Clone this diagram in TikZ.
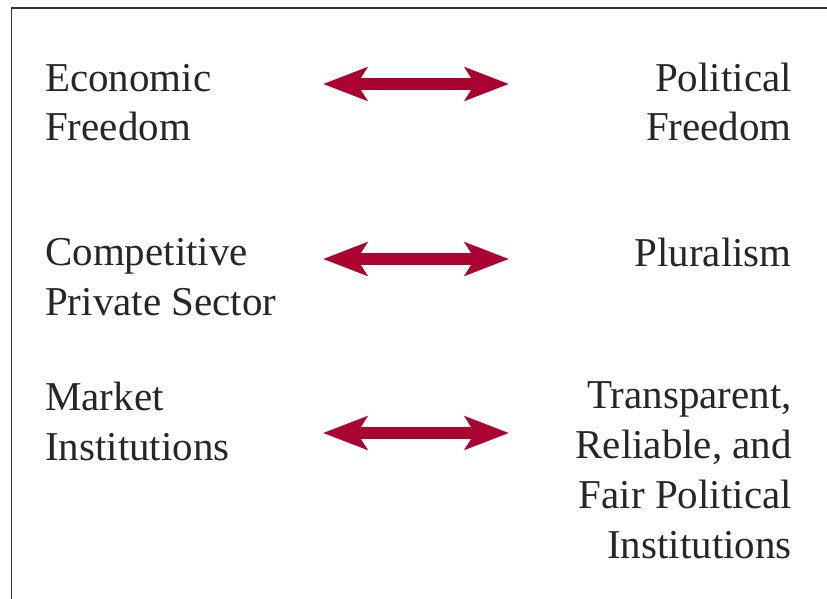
\documentclass[tikz,border=0pt]{standalone}
\usepackage{fontspec}
\setmainfont{Liberation Serif}
\usetikzlibrary{arrows.meta}
\definecolor{crimson}{RGB}{170,3,50}
\definecolor{framegray}{RGB}{50,50,50}
\tikzset{
  lbl/.style={inner sep=0pt, font=\fontsize{41}{50}\selectfont, text=black!85},
  lleft/.style={lbl, anchor=base west, align=left},
  lright/.style={lbl, anchor=base east, align=right},
  biarrow/.style={draw=crimson, line width=12pt,
    arrows={Stealth[length=44pt, width=33pt, inset=10pt, fill=crimson]-Stealth[length=44pt, width=33pt, inset=10pt, fill=crimson]}},
  frameline/.style={draw=framegray, line width=1.8pt}
}
\begin{document}
\begin{tikzpicture}[x=1pt, y=-1pt]
\useasboundingbox (0,0) rectangle (827,599);
\begin{scope}
\clip (0,0) rectangle (827,599);
\draw[frameline] (11.5,700) -- (11.5,8) -- (900,8);
\end{scope}
\node[lleft] (ef) at (45,141) {Economic\\Freedom};
\node[lleft] (cps) at (45,315) {Competitive\\Private Sector};
\node[lleft] (mi) at (45,460) {Market\\Institutions};
\node[lright] (pf) at (792,141) {Political\\Freedom};
\node[lright] (pl) at (792,266) {Pluralism};
\node[lright] (tr) at (792,558) {Transparent,\\Reliable, and\\Fair Political\\Institutions};
\coordinate (a1l) at (323,84); \coordinate (a1r) at (509,84);
\coordinate (a2l) at (323,259); \coordinate (a2r) at (509,259);
\coordinate (a3l) at (323,433); \coordinate (a3r) at (509,433);
\draw[biarrow] (a1l) -- (a1r);
\draw[biarrow] (a2l) -- (a2r);
\draw[biarrow] (a3l) -- (a3r);
\end{tikzpicture}
\end{document}
